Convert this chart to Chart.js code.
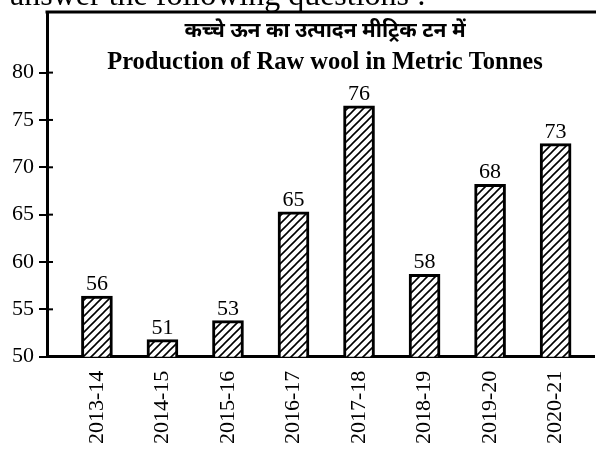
<!DOCTYPE html>
<html>
<head>
<meta charset="utf-8">
<script src="https://cdn.jsdelivr.net/npm/chart.js@4.4.1/dist/chart.umd.min.js"></script>
<style>
  html, body { margin: 0; padding: 0; background: #fff; }
  #wrap { width: 596px; height: 449px; }
</style>
</head>
<body>
<div id="wrap"><canvas id="woolChart" width="596" height="449"></canvas></div>
<script>
// values
const years = ["2013-14", "2014-15", "2015-16", "2016-17", "2017-18", "2018-19", "2019-20", "2020-21"];
const barHeights = [56.4, 51.8, 53.8, 65.3, 76.5, 58.7, 68.2, 72.5]; // as drawn
const valueLabels = ["56", "51", "53", "65", "76", "58", "68", "73"]; // as printed
const yTicks = [50, 55, 60, 65, 70, 75, 80];

const titleHindi = "कच्चे ऊन का उत्पादन मीट्रिक टन में";
const titleEnglish = "Production of Raw wool in Metric Tonnes";
const headerText = "answer the following questions :";

const SERIF = '"Liberation Serif", "Times New Roman", serif';

function makeHatch() {
  const c = document.createElement("canvas");
  c.width = 8;
  c.height = 8;
  const g = c.getContext("2d");
  g.fillStyle = "#fff";
  g.fillRect(0, 0, 8, 8);
  g.strokeStyle = "#000";
  g.lineWidth = 1.6;
  g.beginPath();
  g.moveTo(0, 8); g.lineTo(8, 0);
  g.moveTo(-2, 2); g.lineTo(2, -2);
  g.moveTo(6, 10); g.lineTo(10, 6);
  g.stroke();
  return g.createPattern(c, "repeat");
}

// frame top line, inner tick stubs, value labels and titles
const decorations = {
  id: "decorations",
  afterDraw(chart) {
    const { ctx, chartArea } = chart;
    const y = chart.scales.y;
    ctx.save();
    ctx.strokeStyle = "#000";

    ctx.lineWidth = 3;
    ctx.beginPath();
    ctx.moveTo(chartArea.left - 1.5, chartArea.top);
    ctx.lineTo(chart.width, chartArea.top);
    ctx.stroke();

    ctx.lineWidth = 2;
    yTicks.forEach((v) => {
      const py = y.getPixelForValue(v);
      ctx.beginPath();
      ctx.moveTo(chartArea.left, py);
      ctx.lineTo(chartArea.left + 6, py);
      ctx.stroke();
    });

    ctx.fillStyle = "#000";
    ctx.textAlign = "center";
    ctx.textBaseline = "alphabetic";
    ctx.font = "22px " + SERIF;
    chart.getDatasetMeta(0).data.forEach((bar, i) => {
      ctx.fillText(valueLabels[i], bar.x, bar.y - 6);
    });

    const cx = 325;
    ctx.font = 'bold 21px "Noto Sans Devanagari", "Lohit Devanagari", "Noto Sans", sans-serif';
    ctx.fillText(titleHindi, cx, 37);
    ctx.font = "bold 24.5px " + SERIF;
    ctx.fillText(titleEnglish, cx, 69);

    ctx.textAlign = "left";
    ctx.font = "32px " + SERIF;
    ctx.fillText(headerText, 10, 5);
    ctx.restore();
  },
};

new Chart(document.getElementById("woolChart"), {
  type: "bar",
  data: {
    datasets: [
      {
        data: years.map((_, i) => ({ x: i, y: barHeights[i] })),
        backgroundColor: makeHatch(),
        borderColor: "#000",
        borderWidth: 3,
        barThickness: 31,
      },
    ],
  },
  options: {
    responsive: false,
    animation: false,
    layout: { padding: { top: 12, left: 7, right: 0, bottom: -9 } },
    plugins: { legend: { display: false }, tooltip: { enabled: false } },
    scales: {
      x: {
        type: "linear",
        offset: false,
        min: -0.762,
        max: 7.6,
        afterBuildTicks: (s) => { s.ticks = years.map((_, i) => ({ value: i })); },
        ticks: {
          autoSkip: false,
          minRotation: 90,
          maxRotation: 90,
          padding: 14,
          color: "#000",
          font: { family: SERIF, size: 22 },
          callback: (v) => years[v] ?? "",
        },
        grid: { display: false, drawTicks: false },
        border: { display: true, color: "#000", width: 3 },
      },
      y: {
        type: "linear",
        beginAtZero: false,
        min: 50,
        max: 86.4,
        afterBuildTicks: (s) => { s.ticks = yTicks.map((v) => ({ value: v })); },
        afterFit: (s) => { s.paddingTop = 0; },
        ticks: {
          padding: 5,
          color: "#000",
          font: { family: SERIF, size: 22 },
        },
        grid: { display: true, drawOnChartArea: false, drawTicks: true, tickLength: 8, color: "#000", lineWidth: 2 },
        border: { display: true, color: "#000", width: 3 },
      },
    },
  },
  plugins: [decorations],
});
</script>
</body>
</html>
